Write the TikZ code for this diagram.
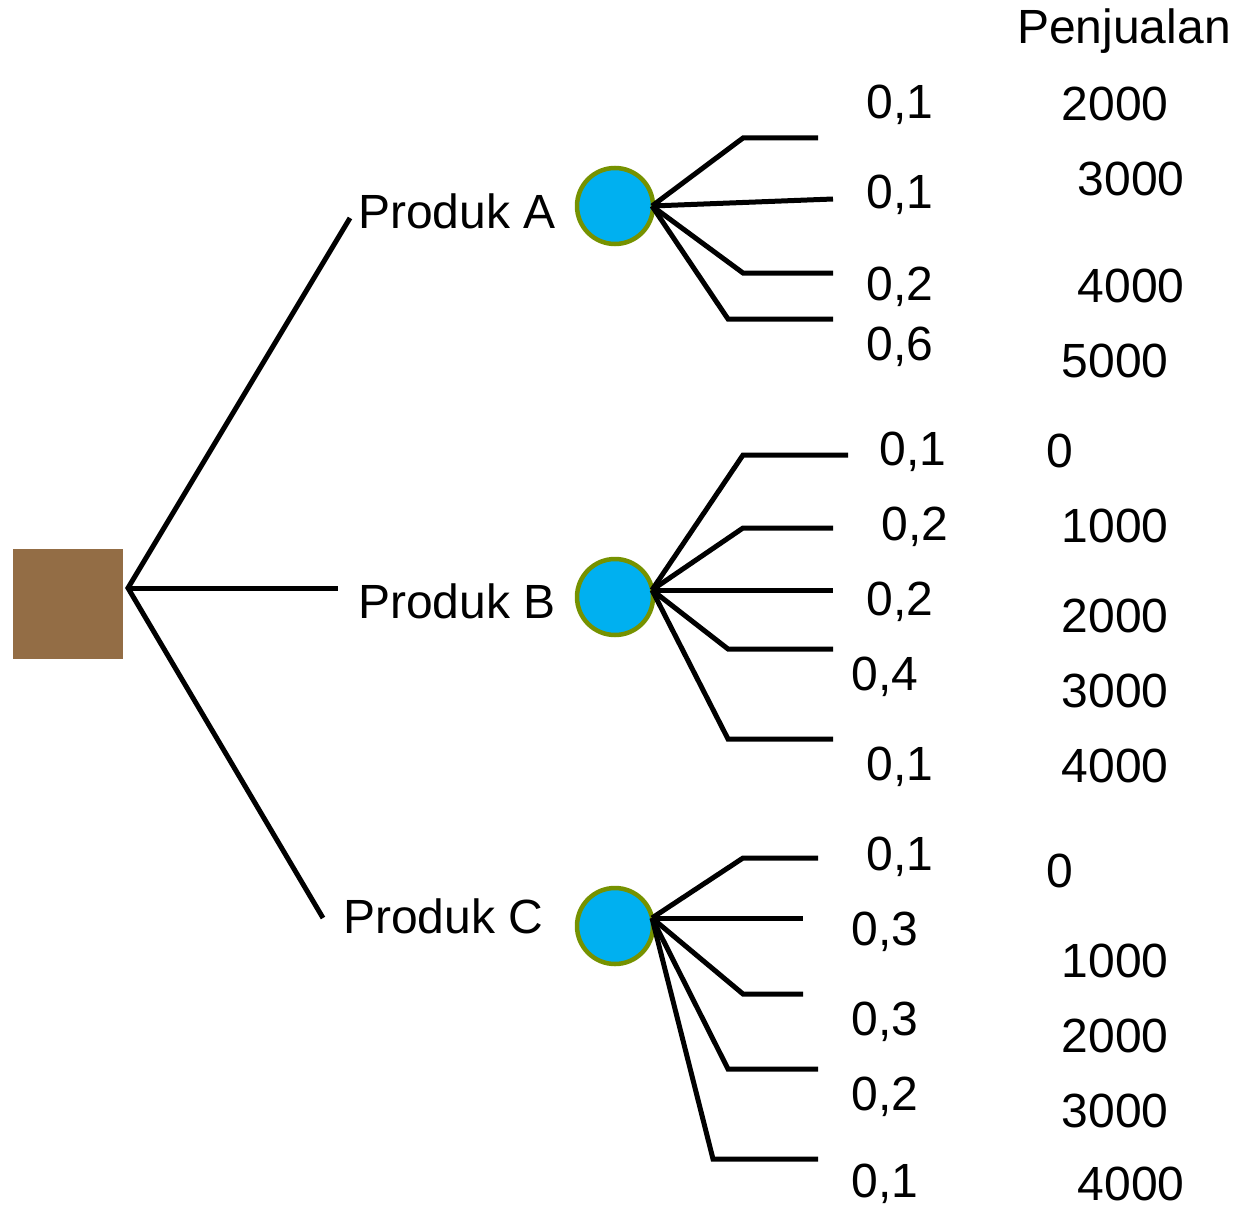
\documentclass[tikz,border=0pt]{standalone}
\usepackage{fontspec}
\setmainfont{Liberation Sans}
\definecolor{boxbrown}{RGB}{147,109,69}
\definecolor{chance}{RGB}{0,176,240}
\definecolor{chanceedge}{RGB}{118,146,0}
\begin{document}
\begin{tikzpicture}[x=1pt,y=-1pt,
  txt/.style={font=\fontsize{48}{56}\selectfont,inner sep=0pt,anchor=center},
  lbl/.style={txt,anchor=west},
  ln/.style={line width=5pt,line cap=butt,line join=miter},
  chancenode/.style={circle,fill=chance,draw=chanceedge,line width=4.5pt,minimum size=76pt,inner sep=0pt}]
\useasboundingbox (0,0) rectangle (1238,1209);
% decision node
\node[fill=boxbrown,minimum width=110pt,minimum height=110pt,inner sep=0pt] (dec) at (68,604) {};
\coordinate (root) at (128,588);
\coordinate (ea) at (350,218);
\coordinate (eb) at (338,588);
\coordinate (ec) at (323,918);
\draw[ln] (ea) -- (root) -- (ec);
\draw[ln] (root) -- (eb);
\node[lbl] (pa) at (358,211) {Produk A};
\node[lbl] (pb) at (358,601) {Produk B};
\node[lbl] (pc) at (343,916) {Produk C};
% chance nodes
\node[chancenode] (ca) at (615,206) {};
\node[chancenode] (cb) at (615,597) {};
\node[chancenode] (cc) at (615,926) {};
\coordinate (sa) at (652,206);
\coordinate (sb) at (652,590);
\coordinate (sc) at (652,918);
% A branches
\draw[ln] (sa) -- (743,138) -- (818,138);
\draw[ln] (sa) -- (833,199);
\draw[ln] (sa) -- (743,273) -- (833,273);
\draw[ln] (sa) -- (728,319) -- (833,319);
% B branches
\draw[ln] (sb) -- (743,455) -- (848,455);
\draw[ln] (sb) -- (743,528) -- (833,528);
\draw[ln] (sb) -- (833,590);
\draw[ln] (sb) -- (728,649) -- (833,649);
\draw[ln] (sb) -- (728,739) -- (833,739);
% C branches
\draw[ln] (sc) -- (743,858) -- (818,858);
\draw[ln] (sc) -- (803,918);
\draw[ln] (sc) -- (743,994) -- (803,994);
\draw[ln] (sc) -- (728,1069) -- (818,1069);
\draw[ln] (sc) -- (713,1159) -- (818,1159);
% header
\node[txt] (hdr) at (1124,31) {Penjualan};
% probabilities A
\node[txt] (a1) at (900,105) {0,1};
\node[txt] (a2) at (900,195) {0,1};
\node[txt] (a3) at (900,287) {0,2};
\node[txt] (a4) at (900,347) {0,6};
\node[txt] (va1) at (1115,104) {2000};
\node[txt] (va2) at (1131,179) {3000};
\node[txt] (va3) at (1131,286) {4000};
\node[txt] (va4) at (1115,361) {5000};
% B
\node[txt] (b1) at (913,452) {0,1};
\node[txt] (b2) at (915,527) {0,2};
\node[txt] (b3) at (900,602) {0,2};
\node[txt] (b4) at (885,677) {0,4};
\node[txt] (b5) at (900,767) {0,1};
\node[txt] (vb1) at (1060,451) {0};
\node[txt] (vb2) at (1115,526) {1000};
\node[txt] (vb3) at (1115,616) {2000};
\node[txt] (vb4) at (1115,691) {3000};
\node[txt] (vb5) at (1115,766) {4000};
% C
\node[txt] (c1) at (900,857) {0,1};
\node[txt] (c2) at (885,932) {0,3};
\node[txt] (c3) at (885,1022) {0,3};
\node[txt] (c4) at (885,1097) {0,2};
\node[txt] (c5) at (885,1184) {0,1};
\node[txt] (vc1) at (1060,871) {0};
\node[txt] (vc2) at (1115,961) {1000};
\node[txt] (vc3) at (1115,1036) {2000};
\node[txt] (vc4) at (1115,1111) {3000};
\node[txt] (vc5) at (1131,1184) {4000};
\end{tikzpicture}
\end{document}
